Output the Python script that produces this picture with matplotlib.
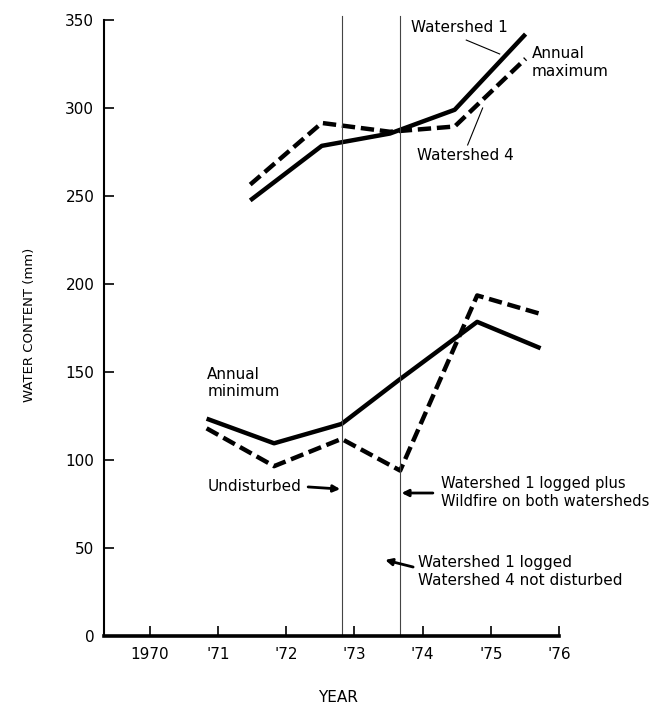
import matplotlib.pyplot as plt
import matplotlib as mpl

# annual maximum (spring) and annual minimum (autumn), mm
max_years = [1971.47, 1972.52, 1973.52, 1974.47, 1975.51]
max_ws1 = [247.5, 278.5, 285.5, 299.0, 342.0]
max_ws4 = [256.5, 291.5, 286.5, 289.5, 328.0]

min_years = [1970.83, 1971.82, 1972.81, 1973.67, 1974.80, 1975.73]
min_ws1 = [123.5, 109.5, 120.5, 146.0, 178.5, 163.5]
min_ws4 = [118.0, 96.5, 112.0, 94.0, 193.5, 183.0]

events = [1972.81, 1973.67]

tick_years = [1970, 1971, 1972, 1973, 1974, 1975, 1976]
tick_labels = ['1970', "'71", "'72", "'73", "'74", "'75", "'76"]

mpl.rcParams['font.family'] = ['Liberation Sans Narrow', 'DejaVu Sans']
mpl.rcParams['font.size'] = 11

fig = plt.figure(figsize=(6.55, 7.07), dpi=100)
ax = fig.add_axes([0.1588, 0.1004, 0.6946, 0.8713])

lw = 3.2
ax.plot(max_years, max_ws1, color='black', lw=lw, solid_capstyle='butt')
ax.plot(max_years, max_ws4, color='black', lw=lw, dashes=(3, 1.3))
ax.plot(min_years, min_ws1, color='black', lw=lw, solid_capstyle='butt')
ax.plot(min_years, min_ws4, color='black', lw=lw, dashes=(3, 1.3))

for x in events:
    ax.plot([x, x], [0, 352], color='#444444', lw=0.8, clip_on=False)

ax.set_xlim(1969.325, 1976)
ax.set_ylim(0, 350)
ax.set_xticks(tick_years)
ax.set_xticklabels(tick_labels)
ax.set_yticks(range(0, 351, 50))

for s in ['top', 'right']:
    ax.spines[s].set_visible(False)
ax.spines['left'].set_linewidth(1.5)
ax.spines['bottom'].set_linewidth(2.6)
ax.tick_params(axis='y', direction='in', length=7, width=1.2, pad=7)
ax.tick_params(axis='x', direction='in', length=7, width=1.2, pad=8)

ax.text(-0.163, 0.505, 'WATER CONTENT (mm)', transform=ax.transAxes,
        rotation=90, ha='center', va='center', fontsize=9.5)
ax.text(0.514, -0.099, 'YEAR', transform=ax.transAxes,
        ha='center', va='center', fontsize=11)

# labels for the curves
ax.text(1973.83, 345.5, 'Watershed 1', ha='left', va='center')
ax.plot([1974.64, 1975.13], [338.6, 330.7], color='black', lw=0.8)
ax.text(1975.60, 325.9, 'Annual\nmaximum', ha='left', va='center', linespacing=1.2)
ax.text(1973.92, 273.3, 'Watershed 4', ha='left', va='center')
ax.plot([1974.66, 1974.88], [279, 300], color='black', lw=0.8)
ax.text(1970.84, 143.8, 'Annual\nminimum', ha='left', va='center', linespacing=1.2)

arrow = dict(arrowstyle='-|>', color='black', lw=2, mutation_scale=10,
             shrinkA=0, shrinkB=0)
ax.text(1970.85, 84.7, 'Undisturbed', ha='left', va='center')
ax.annotate('', xy=(1972.79, 83.5), xytext=(1972.32, 84.7), arrowprops=arrow)
ax.text(1974.27, 81.5, 'Watershed 1 logged plus\nWildfire on both watersheds',
        ha='left', va='center', linespacing=1.2, fontsize=10.6)
ax.annotate('', xy=(1973.69, 81.25), xytext=(1974.15, 81.25), arrowprops=arrow)
ax.text(1973.93, 36.6, 'Watershed 1 logged\nWatershed 4 not disturbed',
        ha='left', va='center', linespacing=1.2)
ax.annotate('', xy=(1973.45, 43.2), xytext=(1973.86, 39.2), arrowprops=arrow)

fig.savefig('out.png', dpi=100)
